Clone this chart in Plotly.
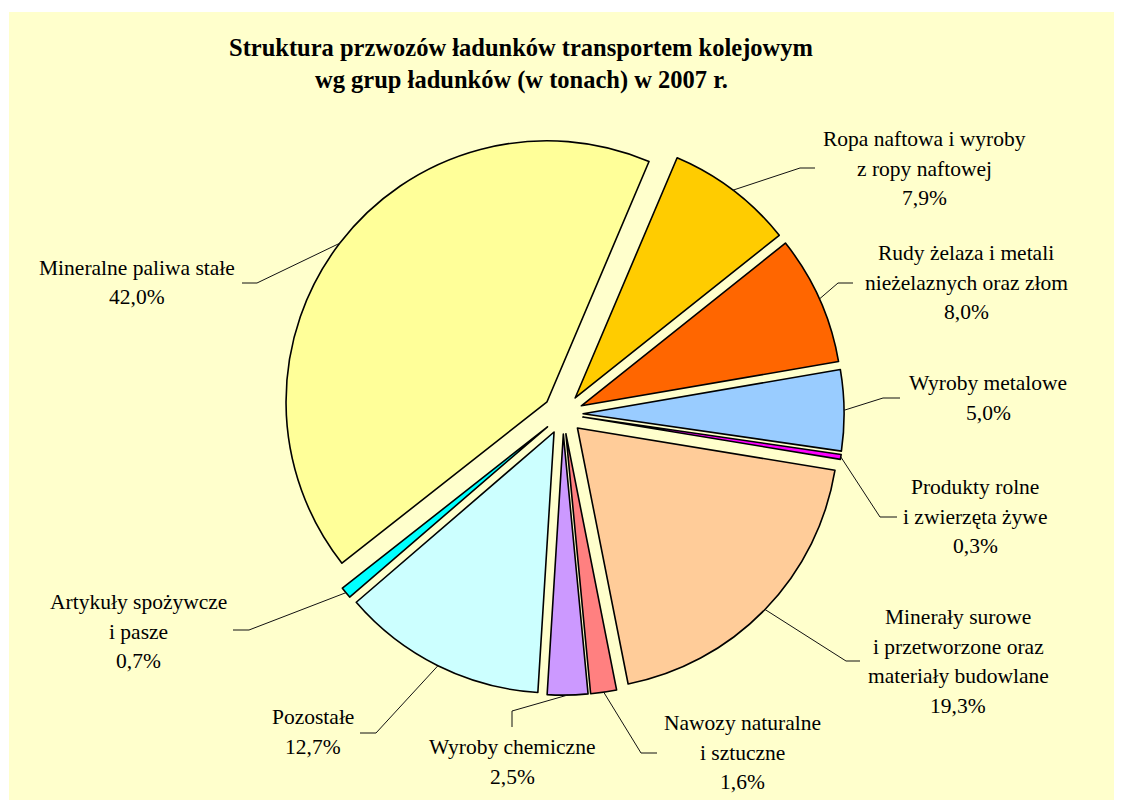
import math
import plotly.graph_objects as go

OFF = 8                      # browser body margin (window pixels)
W, H = 1122 - OFF, 808 - 2 * OFF   # figure size that fits the window without scrollbars

# ---- data ----
categories = [
    "Ropa naftowa i wyroby z ropy naftowej",
    "Rudy żelaza i metali nieżelaznych oraz złom",
    "Wyroby metalowe",
    "Produkty rolne i zwierzęta żywe",
    "Minerały surowe i przetworzone oraz materiały budowlane",
    "Nawozy naturalne i sztuczne",
    "Wyroby chemiczne",
    "Pozostałe",
    "Artykuły spożywcze i pasze",
    "Mineralne paliwa stałe",
]
label_lines = [
    ["Ropa naftowa i wyroby", "z ropy naftowej"],
    ["Rudy żelaza i metali", "nieżelaznych oraz złom"],
    ["Wyroby metalowe"],
    ["Produkty rolne", "i zwierzęta żywe"],
    ["Minerały surowe", "i przetworzone oraz", "materiały budowlane"],
    ["Nawozy naturalne", "i sztuczne"],
    ["Wyroby chemiczne"],
    ["Pozostałe"],
    ["Artykuły spożywcze", "i pasze"],
    ["Mineralne paliwa stałe"],
]
shares = [7.9, 8.0, 5.0, 0.3, 19.3, 1.6, 2.5, 12.7, 0.7, 42.0]

title_lines = [
    "Struktura przwozów ładunków transportem kolejowym",
    "wg grup ładunków (w tonach) w 2007 r.",
]

# ---- style / layout ----
colors = ["#FFCC00", "#FF6600", "#99CCFF", "#FF00FF", "#FFCC99",
          "#FF8080", "#CC99FF", "#CCFFFF", "#00FFFF", "#FFFF99"]
bg = "#FFFFCC"
FONT = "Liberation Serif, Times New Roman, serif"

cx, cy, R = 563, 414, 261       # pie centre / radius in window px
PULL = 0.077
ROT = 23

# label placement (window px): centre x, first line centre y
label_pos = [(924, 139), (966, 253), (988, 383), (975, 487), (958, 617),
             (743, 723), (512, 747), (313, 717), (138, 602), (137, 268)]
LINE_GAP = 29.5
# leader elbows and ends (window px)
leader_elbow = [(800, 168), (838, 283), (883, 398), (880, 517), (846, 661),
                (641, 753), (512, 711), (376, 733), (249, 630), (257, 283)]
leader_end = [(815, 168), (853, 283), (900, 398), (897, 517), (860, 661),
              (657, 753), (512, 727), (360, 733), (233, 630), (242, 283)]


def px(x):
    return (x - OFF) / W


def py(y):
    return 1 - (y - OFF) / H


D = 2 * R * (1 + PULL)
domain_x = [px(cx - D / 2), px(cx + D / 2)]
domain_y = [py(cy + D / 2), py(cy - D / 2)]

fig = go.Figure(go.Pie(
    labels=categories,
    values=shares,
    sort=False,
    direction="clockwise",
    rotation=ROT,
    pull=[PULL] * len(shares),
    marker=dict(colors=colors, line=dict(color="black", width=1.6)),
    textinfo="none",
    hovertemplate="%{label}<br>%{value:.1f}%<extra></extra>",
    domain=dict(x=domain_x, y=domain_y),
    showlegend=False,
))

# white page strips at top and left, chart area is yellow
shapes = [
    dict(type="rect", xref="paper", yref="paper",
         x0=0, x1=1, y0=py(12), y1=1,
         fillcolor="white", line=dict(width=0), layer="below"),
    dict(type="rect", xref="paper", yref="paper",
         x0=0, x1=px(9), y0=0, y1=1,
         fillcolor="white", line=dict(width=0), layer="below"),
]
annotations = []

total = sum(shares)
cum = 0.0
for i, v in enumerate(shares):
    mid = math.radians(ROT + (cum + v / 2) / total * 360)
    cum += v
    ox = cx + PULL * R * math.sin(mid)
    oy = cy - PULL * R * math.cos(mid)
    sx = ox + R * math.sin(mid)
    sy = oy - R * math.cos(mid)
    ex, ey = leader_elbow[i]
    fx, fy = leader_end[i]
    shapes.append(dict(
        type="path", xref="paper", yref="paper",
        path=f"M {px(sx)},{py(sy)} L {px(ex)},{py(ey)} L {px(fx)},{py(fy)}",
        line=dict(color="#111111", width=1)))
    lines = label_lines[i] + [f"{v:.1f}".replace(".", ",") + "%"]
    lx, ly = label_pos[i]
    for k, t in enumerate(lines):
        annotations.append(dict(
            text=t, x=px(lx), y=py(ly + k * LINE_GAP),
            xref="paper", yref="paper", xanchor="center", yanchor="middle",
            showarrow=False, font=dict(family=FONT, size=21.5, color="black")))

for k, t in enumerate(title_lines):
    annotations.append(dict(
        text=f"<b>{t}</b>", x=px(521), y=py(48 + k * 32),
        xref="paper", yref="paper", xanchor="center", yanchor="middle",
        showarrow=False, font=dict(family=FONT, size=24.5, color="black")))

fig.update_layout(
    width=W, height=H,
    margin=dict(l=0, r=0, t=0, b=0),
    paper_bgcolor=bg,
    plot_bgcolor=bg,
    shapes=shapes,
    annotations=annotations,
)

fig.write_html("out.html")
